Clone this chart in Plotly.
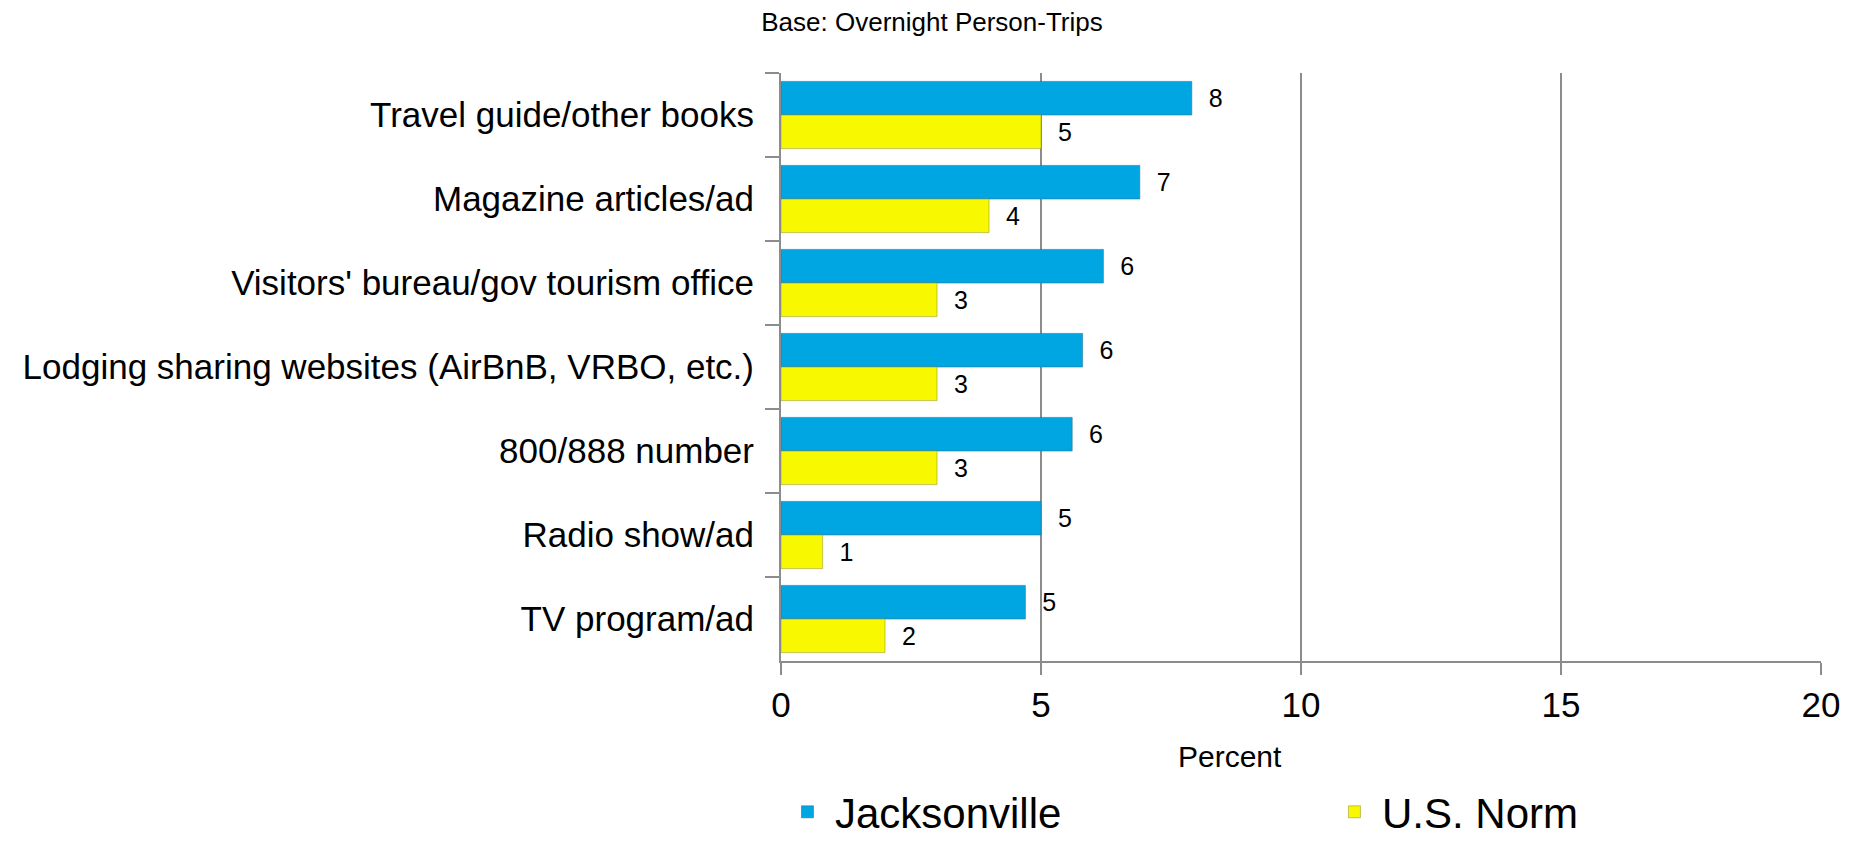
import plotly.graph_objects as go

# Information sources used for trip planning
categories = [
    "Travel guide/other books",
    "Magazine articles/ad",
    "Visitors' bureau/gov tourism office",
    "Lodging sharing websites (AirBnB, VRBO, etc.)",
    "800/888 number",
    "Radio show/ad",
    "TV program/ad",
]
jacksonville = [7.9, 6.9, 6.2, 5.8, 5.6, 5.0, 4.7]
us_norm = [5.0, 4.0, 3.0, 3.0, 3.0, 0.8, 2.0]

x_ticks = [0, 5, 10, 15, 20]

SANS = "Liberation Sans, Arial, sans-serif"
GRID = "#8c8c8c"
NBSP = "\u00a0\u00a0"

fig = go.Figure()
fig.add_trace(go.Bar(
    name="Jacksonville",
    y=categories,
    x=jacksonville,
    orientation="h",
    marker=dict(color="#00A6E1", line=dict(color="rgba(40,110,150,0.55)", width=1)),
    texttemplate=NBSP + "%{x:.0f}",
    textposition="outside",
    textfont=dict(family=SANS, size=25, color="#000000"),
))
fig.add_trace(go.Bar(
    name="U.S. Norm",
    y=categories,
    x=us_norm,
    orientation="h",
    marker=dict(color="#F8F800", line=dict(color="rgba(150,150,40,0.55)", width=1)),
    texttemplate=NBSP + "%{x:.0f}",
    textposition="outside",
    textfont=dict(family=SANS, size=25, color="#000000"),
))

fig.update_layout(
    width=1858,
    height=841,
    margin=dict(l=781, r=37, t=73, b=180, autoexpand=False),
    paper_bgcolor="white",
    plot_bgcolor="white",
    barmode="group",
    bargap=0.2,
    bargroupgap=0,
    title=dict(
        text="Base: Overnight Person-Trips",
        x=932 / 1858,
        xanchor="center",
        y=1 - 22 / 841,
        yanchor="middle",
        font=dict(family=SANS, size=26, color="#000000"),
    ),
    showlegend=True,
    legend=dict(
        orientation="h",
        xref="paper",
        yref="paper",
        x=-0.001,
        y=-(812 - 661) / 588,
        xanchor="left",
        yanchor="middle",
        font=dict(family=SANS, size=42, color="#000000"),
        itemwidth=45,
        entrywidth=487,
        entrywidthmode="pixels",
        bgcolor="rgba(0,0,0,0)",
    ),
    annotations=[
        dict(
            text="Percent",
            xref="paper",
            yref="paper",
            x=(1230 - 781) / 1040,
            y=-(756 - 661) / 588,
            xanchor="center",
            yanchor="middle",
            showarrow=False,
            font=dict(family=SANS, size=30, color="#000000"),
        )
    ],
)

fig.update_xaxes(
    range=[0, 20],
    tickvals=x_ticks,
    ticktext=[str(v) for v in x_ticks],
    showgrid=True,
    gridcolor=GRID,
    gridwidth=2,
    showline=True,
    linecolor=GRID,
    linewidth=2,
    ticks="outside",
    ticklen=12,
    tickwidth=2,
    tickcolor=GRID,
    tickfont=dict(family=SANS, size=35, color="#000000"),
    zeroline=False,
    automargin=False,
    fixedrange=True,
)
fig.update_yaxes(
    autorange="reversed",
    showgrid=False,
    showline=True,
    linecolor=GRID,
    linewidth=2,
    ticks="outside",
    tickson="boundaries",
    ticklen=14,
    tickwidth=2,
    tickcolor=GRID,
    ticklabelstandoff=18,
    tickfont=dict(family=SANS, size=35, color="#000000"),
    automargin=False,
    fixedrange=True,
)

fig.write_html("out.html")
